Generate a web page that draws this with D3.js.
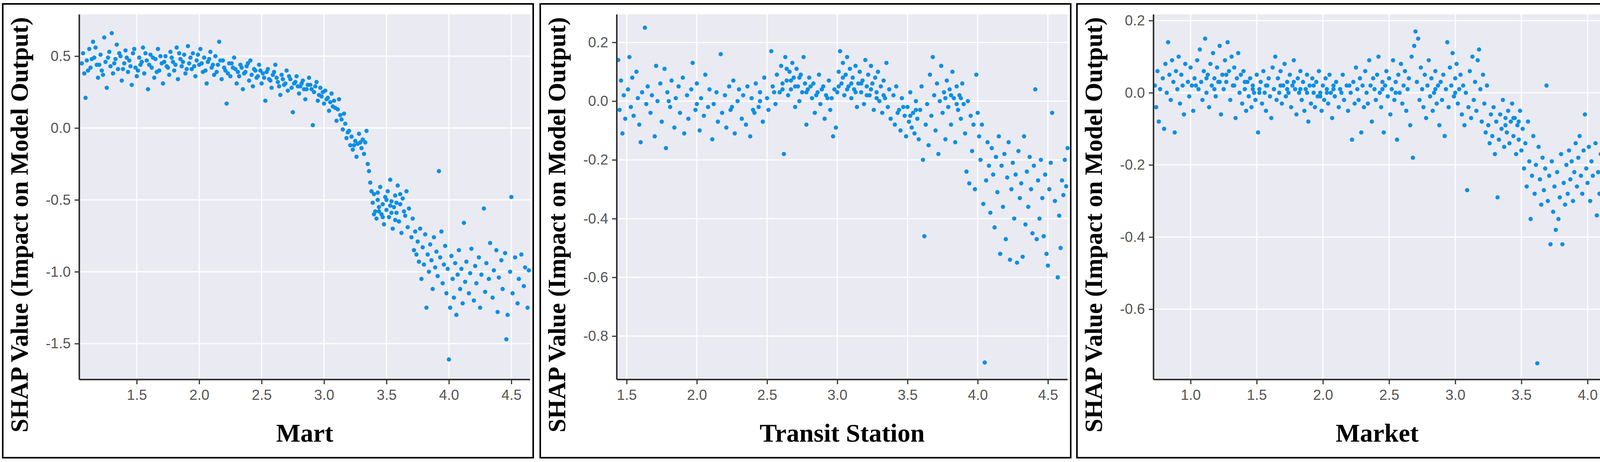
<!DOCTYPE html>
<html>
<head>
<meta charset="utf-8">
<script src="https://cdn.jsdelivr.net/npm/d3@7"></script>
<style>
  body { margin: 0; background: #fff; }
</style>
</head>
<body>
<svg id="chart" width="4132" height="1182"></svg>
<script>
// feature names
const features = ["Mart", "Transit Station", "Market"];

// axis domains and ticks per panel
const xDomains = [[1.04, 4.65], [1.43, 4.64], [0.72, 4.1]];
const yDomains = [[-1.75, 0.79], [-0.948, 0.295], [-0.795, 0.217]];
const xTicks = [[1.5, 2.0, 2.5, 3.0, 3.5, 4.0, 4.5], [1.5, 2.0, 2.5, 3.0, 3.5, 4.0, 4.5], [1.0, 1.5, 2.0, 2.5, 3.0, 3.5, 4.0]];
const yTicks = [[0.5, 0.0, -0.5, -1.0, -1.5], [0.2, 0.0, -0.2, -0.4, -0.6, -0.8], [0.2, 0.0, -0.2, -0.4, -0.6]];

// SHAP points, flat x,y pairs
const martPts = [
1.06,0.45,1.07,0.52,1.08,0.38,1.09,0.21,1.10,0.47,1.12,0.55,1.13,0.42,1.15,0.60,1.16,0.49,1.18,0.44,1.19,0.35,1.21,0.51,1.22,0.40,1.24,0.63,1.25,0.46,1.26,0.28,1.28,0.53,1.29,0.43,1.30,0.66,1.31,0.38,1.33,0.48,1.34,0.58,1.35,0.41,1.37,0.50,1.38,0.33,1.40,0.45,1.41,0.54,1.43,0.39,1.44,0.47,1.46,0.30,1.47,0.52,1.49,0.42,1.50,0.36,1.52,0.49,1.53,0.44,1.55,0.56,1.56,0.38,1.58,0.47,1.59,0.27,1.61,0.51,1.62,0.42,1.64,0.35,1.65,0.48,1.67,0.55,1.68,0.40,1.70,0.45,1.71,0.31,1.73,0.50,1.74,0.43,1.76,0.37,1.77,0.53,1.79,0.46,1.80,0.40,1.82,0.56,1.83,0.34,1.85,0.48,1.86,0.43,1.88,0.51,1.89,0.38,1.91,0.57,1.92,0.45,1.94,0.41,1.95,0.52,1.97,0.36,1.98,0.47,2.00,0.44,2.01,0.55,2.03,0.39,2.04,0.49,2.06,0.31,2.07,0.46,2.09,0.53,2.10,0.42,2.12,0.37,2.13,0.50,2.15,0.44,2.16,0.60,2.18,0.34,2.19,0.47,2.21,0.40,2.22,0.17,2.24,0.45,2.25,0.36,2.27,0.42,2.28,0.49,2.30,0.31,2.31,0.39,2.33,0.44,2.35,0.27,2.36,0.38,2.38,0.43,2.40,0.33,2.41,0.47,2.43,0.29,2.45,0.40,2.46,0.35,2.48,0.44,2.50,0.31,2.51,0.38,2.53,0.19,2.55,0.41,2.56,0.34,2.58,0.28,2.60,0.39,2.61,0.44,2.63,0.32,2.65,0.23,2.66,0.37,2.68,0.30,2.70,0.40,2.71,0.26,2.73,0.34,2.75,0.11,2.76,0.31,2.78,0.36,2.80,0.24,2.81,0.29,2.83,0.33,2.85,0.20,2.86,0.27,2.88,0.35,2.89,0.30,2.91,0.02,2.92,0.25,2.94,0.32,2.95,0.19,2.97,0.28,2.98,0.22,3.00,0.17,3.01,0.26,3.03,0.21,3.04,0.12,3.06,0.24,3.07,0.15,3.08,0.19,3.10,0.05,3.11,0.13,3.12,0.20,3.13,0.09,3.15,-0.01,3.16,0.10,3.17,0.03,3.18,-0.07,3.20,-0.02,3.21,-0.12,3.22,-0.06,3.23,-0.15,3.25,-0.09,3.26,-0.20,3.27,-0.11,3.28,-0.04,3.30,-0.14,3.31,-0.08,3.32,-0.18,3.33,-0.10,3.34,-0.02,3.35,-0.25,3.36,-0.30,3.37,-0.38,3.38,-0.44,3.39,-0.52,3.40,-0.46,3.41,-0.58,3.42,-0.63,3.43,-0.50,3.44,-0.55,3.45,-0.41,3.46,-0.60,3.47,-0.53,3.48,-0.67,3.49,-0.48,3.50,-0.57,3.51,-0.44,3.52,-0.62,3.53,-0.36,3.54,-0.51,3.55,-0.70,3.56,-0.55,3.57,-0.47,3.58,-0.59,3.59,-0.40,3.60,-0.65,3.61,-0.53,3.62,-0.73,3.63,-0.49,3.64,-0.58,3.65,-0.61,3.66,-0.44,3.67,-0.69,3.68,-0.56,3.70,-0.76,3.71,-0.63,3.72,-0.85,3.73,-0.72,3.74,-0.88,3.75,-0.79,3.76,-0.93,3.77,-0.70,3.78,-1.05,3.79,-0.83,3.80,-0.95,3.81,-0.74,3.82,-1.25,3.83,-0.88,3.84,-1.00,3.85,-0.81,3.86,-0.92,3.87,-1.12,3.88,-0.76,3.89,-0.97,3.90,-0.86,3.91,-1.03,3.92,-0.30,3.93,-0.90,3.94,-0.72,3.95,-1.08,3.96,-0.95,3.97,-0.82,3.98,-1.15,3.99,-0.98,4.00,-1.61,4.01,-1.25,4.02,-0.89,4.03,-1.05,4.04,-1.18,4.05,-0.94,4.06,-1.30,4.07,-1.02,4.08,-0.85,4.09,-1.12,4.10,-0.98,4.11,-1.22,4.12,-0.66,4.13,-1.07,4.14,-0.93,4.16,-1.15,4.17,-1.01,4.18,-0.84,4.20,-1.20,4.21,-0.96,4.22,-1.08,4.24,-0.90,4.25,-1.25,4.26,-1.02,4.28,-0.56,4.29,-1.14,4.30,-0.94,4.32,-1.05,4.33,-0.80,4.35,-1.18,4.36,-0.99,4.38,-0.85,4.39,-1.28,4.40,-1.04,4.42,-0.92,4.43,-1.12,4.45,-0.87,4.46,-1.47,4.47,-1.30,4.49,-1.00,4.50,-0.48,4.51,-1.15,4.53,-0.90,4.55,-1.22,4.56,-1.05,4.58,-0.88,4.60,-1.10,4.61,-0.97,4.63,-1.25,4.64,-0.99,
1.11,0.40,1.14,0.48,1.17,0.56,1.20,0.44,1.23,0.37,1.27,0.49,1.32,0.45,1.36,0.52,1.39,0.41,1.42,0.49,1.45,0.43,1.48,0.55,1.51,0.40,1.54,0.46,1.57,0.52,1.60,0.44,1.63,0.49,1.66,0.39,1.69,0.50,1.72,0.46,1.75,0.42,1.78,0.49,1.81,0.44,1.84,0.52,1.87,0.46,1.90,0.41,1.93,0.49,1.96,0.43,1.99,0.51,2.02,0.45,2.05,0.40,2.08,0.48,2.11,0.44,2.14,0.39,2.17,0.47,2.20,0.42,2.23,0.38,2.26,0.45,2.29,0.41,2.32,0.36,2.34,0.42,2.37,0.39,2.39,0.45,2.42,0.37,2.44,0.41,2.47,0.36,2.49,0.40,2.52,0.35,2.54,0.39,2.57,0.33,2.59,0.37,2.62,0.35,2.64,0.29,2.67,0.34,2.69,0.31,2.72,0.36,2.74,0.28,2.77,0.32,2.79,0.29,2.82,0.31,2.84,0.27,2.87,0.30,2.90,0.27,2.93,0.29,2.96,0.23,2.99,0.25,3.02,0.20,3.05,0.18,3.09,0.14,3.14,0.06,3.19,-0.03,3.24,-0.12,3.29,-0.10,3.44,-0.58,3.50,-0.50,3.54,-0.59,3.58,-0.52,3.47,-0.62,3.43,-0.45,3.57,-0.64,3.61,-0.46,3.40,-0.60,3.53,-0.54
];

const transitPts = [
1.44,0.14,1.45,-0.03,1.46,0.07,1.47,-0.11,1.48,0.02,1.49,-0.06,1.51,0.04,1.52,0.15,1.53,-0.02,1.54,0.08,1.55,-0.05,1.57,0.10,1.58,0.01,1.59,-0.08,1.60,-0.14,1.61,0.03,1.63,0.25,1.64,-0.01,1.65,0.05,1.67,-0.04,1.68,0.02,1.70,-0.12,1.71,0.12,1.72,0.00,1.74,0.06,1.75,-0.07,1.77,0.11,1.78,-0.16,1.79,0.03,1.81,-0.02,1.82,0.07,1.84,-0.09,1.85,0.01,1.87,0.05,1.88,-0.04,1.90,0.08,1.91,-0.11,1.93,0.02,1.94,-0.06,1.96,0.04,1.97,0.13,1.99,-0.03,2.00,0.06,2.02,-0.10,2.03,0.01,2.05,-0.05,2.06,0.09,2.08,-0.02,2.09,0.04,2.11,-0.13,2.12,-0.01,2.14,0.03,2.15,-0.07,2.17,0.16,2.18,-0.04,2.20,0.02,2.21,-0.09,2.23,0.05,2.24,-0.03,2.26,0.07,2.27,-0.11,2.29,0.00,2.30,0.04,2.32,-0.06,2.33,0.02,2.35,-0.08,2.36,0.05,2.38,-0.12,2.39,0.01,2.41,-0.04,2.42,0.06,2.44,-0.02,2.45,0.03,2.47,-0.07,2.48,0.08,2.50,0.01,2.51,-0.03,2.53,0.17,2.54,0.05,2.56,-0.01,2.57,0.09,2.59,0.03,2.60,0.12,2.61,0.06,2.62,-0.18,2.63,0.15,2.64,0.07,2.65,0.02,2.66,0.10,2.67,0.04,2.68,0.13,2.69,0.08,2.70,-0.02,2.71,0.11,2.72,0.05,2.73,0.00,2.74,0.09,2.75,0.03,2.76,0.15,2.77,0.06,2.78,-0.08,2.79,0.04,2.80,0.08,2.82,0.01,2.83,0.06,2.84,-0.04,2.86,0.03,2.87,0.09,2.88,-0.01,2.90,0.05,2.91,-0.06,2.92,0.02,2.94,0.07,2.95,-0.03,2.96,0.01,2.97,-0.12,2.98,0.04,2.99,-0.09,3.00,0.03,3.01,0.10,3.02,0.17,3.03,0.06,3.04,0.13,3.05,0.02,3.06,0.09,3.07,0.15,3.08,0.05,3.09,0.11,3.10,0.01,3.11,0.08,3.12,0.04,3.13,0.12,3.14,-0.02,3.15,0.06,3.16,0.10,3.17,0.03,3.18,0.07,3.19,-0.01,3.20,0.14,3.21,0.05,3.22,0.09,3.23,0.02,3.24,0.12,3.25,0.06,3.26,-0.03,3.27,0.08,3.28,0.03,3.29,0.10,3.30,0.00,3.31,0.05,3.32,-0.04,3.33,0.07,3.34,0.01,3.35,0.13,3.36,-0.02,3.37,0.04,3.38,-0.06,3.40,0.02,3.41,-0.08,3.42,0.05,3.44,-0.03,3.45,-0.10,3.46,0.01,3.48,-0.05,3.49,-0.12,3.50,-0.02,3.51,-0.07,3.52,0.03,3.53,-0.09,3.54,-0.04,3.55,-0.11,3.56,0.00,3.57,-0.06,3.58,-0.13,3.59,-0.03,3.60,0.05,3.61,-0.20,3.62,-0.46,3.63,-0.08,3.64,-0.01,3.65,-0.15,3.66,0.09,3.67,-0.05,3.68,0.15,3.69,0.02,3.70,-0.10,3.71,0.06,3.72,-0.18,3.73,0.00,3.74,0.12,3.75,-0.04,3.76,0.03,3.77,-0.13,3.78,0.07,3.79,-0.02,3.80,0.04,3.81,-0.08,3.82,0.10,3.83,0.01,3.84,-0.14,3.85,0.05,3.86,-0.03,3.87,0.02,3.88,-0.06,3.89,0.06,3.90,-0.01,3.91,-0.11,3.92,-0.24,3.93,0.00,3.94,-0.28,3.95,-0.05,3.96,-0.17,3.97,-0.08,3.98,-0.30,3.99,0.09,4.00,-0.04,4.01,-0.12,4.02,-0.20,4.03,-0.08,4.04,-0.35,4.05,-0.89,4.06,-0.27,4.07,-0.14,4.08,-0.22,4.09,-0.38,4.10,-0.16,4.11,-0.25,4.12,-0.43,4.13,-0.19,4.14,-0.31,4.15,-0.12,4.16,-0.52,4.17,-0.22,4.18,-0.36,4.19,-0.18,4.20,-0.47,4.21,-0.26,4.22,-0.14,4.23,-0.54,4.24,-0.30,4.25,-0.21,4.26,-0.40,4.27,-0.25,4.28,-0.55,4.29,-0.17,4.30,-0.33,4.31,-0.28,4.32,-0.53,4.33,-0.12,4.34,-0.42,4.35,-0.24,4.36,-0.36,4.37,-0.19,4.38,-0.30,4.39,-0.45,4.40,-0.22,4.41,0.04,4.42,-0.47,4.43,-0.27,4.44,-0.40,4.45,-0.20,4.46,-0.33,4.47,-0.46,4.48,-0.25,4.49,-0.52,4.50,-0.56,4.51,-0.30,4.52,-0.21,4.53,-0.04,4.55,-0.34,4.57,-0.60,4.58,-0.39,4.59,-0.50,4.60,-0.27,4.61,-0.32,4.62,-0.20,4.63,-0.29,4.64,-0.16,
2.61,0.04,2.64,0.11,2.67,0.07,2.70,0.05,2.73,0.08,2.78,0.03,2.81,0.05,2.85,0.02,2.89,0.04,2.93,0.01,3.01,0.05,3.04,0.08,3.07,0.04,3.10,0.06,3.13,0.03,3.17,0.06,3.21,0.02,3.24,0.04,3.28,0.01,3.33,0.02,3.43,-0.04,3.47,-0.02,3.52,-0.05,3.56,-0.03,3.77,0.01,3.81,0.02,3.85,-0.01,3.88,0.01,1.80,0.00,2.00,-0.01,2.25,-0.02,2.40,-0.03,2.55,0.03,2.45,0.00
];

const marketPts = [
0.73,0.02,0.74,-0.04,0.75,0.06,0.76,-0.08,0.77,0.01,0.79,0.04,0.80,-0.10,0.81,0.08,0.82,0.00,0.83,0.14,0.84,0.05,0.85,-0.02,0.86,0.09,0.87,0.03,0.88,-0.11,0.89,0.06,0.90,0.01,0.91,0.10,0.92,-0.03,0.93,0.05,0.94,0.02,0.95,-0.06,0.96,0.08,0.98,0.03,0.99,-0.01,1.00,0.07,1.01,0.02,1.02,-0.05,1.03,0.04,1.05,0.09,1.06,0.01,1.07,0.12,1.08,0.03,1.09,-0.02,1.10,0.06,1.11,0.15,1.12,0.00,1.13,0.05,1.14,-0.04,1.15,0.08,1.16,0.02,1.17,0.11,1.18,0.04,1.19,-0.01,1.20,0.07,1.21,0.03,1.22,0.13,1.23,-0.06,1.24,0.05,1.25,0.01,1.26,0.09,1.27,0.03,1.28,0.14,1.29,0.06,1.30,-0.02,1.31,0.10,1.32,0.02,1.33,0.07,1.34,-0.07,1.35,0.04,1.36,0.11,1.37,0.00,1.38,0.05,1.39,-0.03,1.40,0.06,1.41,0.01,1.42,-0.05,1.43,0.03,1.44,-0.01,1.45,0.04,1.46,-0.04,1.47,0.02,1.48,0.00,1.49,-0.02,1.50,0.05,1.51,-0.11,1.52,0.01,1.53,0.03,1.54,-0.03,1.55,0.06,1.56,0.00,1.57,-0.05,1.58,0.02,1.59,0.04,1.60,-0.01,1.61,-0.07,1.62,0.07,1.63,0.01,1.64,0.10,1.65,-0.02,1.66,0.04,1.67,0.00,1.68,0.06,1.69,-0.03,1.70,0.02,1.71,0.08,1.72,-0.01,1.73,0.03,1.74,0.00,1.75,0.05,1.76,-0.04,1.77,0.02,1.78,0.09,1.79,0.01,1.80,-0.06,1.81,0.04,1.82,0.00,1.83,0.06,1.84,-0.02,1.85,0.03,1.86,-0.05,1.87,0.01,1.88,0.05,1.89,-0.08,1.90,0.02,1.91,-0.03,1.92,0.04,1.93,0.00,1.94,-0.04,1.95,0.03,1.96,-0.01,1.97,0.06,1.98,0.00,1.99,-0.05,2.00,0.02,2.01,-0.02,2.02,0.04,2.03,0.01,2.04,-0.03,2.05,0.05,2.06,0.00,2.07,-0.07,2.08,0.02,2.09,-0.01,2.10,0.03,2.12,-0.04,2.13,0.01,2.15,0.05,2.16,-0.02,2.18,0.02,2.19,-0.05,2.21,0.00,2.22,-0.13,2.23,0.03,2.24,-0.03,2.25,0.07,2.26,0.01,2.27,-0.02,2.28,0.04,2.29,-0.11,2.30,0.02,2.31,-0.04,2.32,0.06,2.33,0.00,2.34,-0.03,2.35,0.09,2.36,0.02,2.37,-0.08,2.38,0.04,2.39,0.01,2.40,-0.02,2.41,0.05,2.42,0.10,2.43,0.00,2.44,-0.04,2.45,0.03,2.46,-0.11,2.47,0.02,2.48,0.06,2.49,-0.01,2.50,0.04,2.51,-0.06,2.52,0.01,2.53,0.09,2.54,-0.02,2.55,0.03,2.56,-0.13,2.57,0.05,2.58,0.00,2.59,0.08,2.60,-0.03,2.61,0.02,2.62,0.06,2.63,-0.05,2.64,0.01,2.65,0.04,2.66,-0.09,2.67,0.10,2.68,-0.18,2.69,0.13,2.70,0.17,2.71,0.03,2.72,0.15,2.73,-0.02,2.74,0.07,2.75,0.01,2.76,-0.04,2.77,0.05,2.78,-0.07,2.79,0.02,2.80,0.09,2.81,-0.01,2.82,0.04,2.83,-0.05,2.84,0.00,2.85,0.06,2.86,-0.03,2.87,0.02,2.88,-0.09,2.89,0.03,2.90,-0.02,2.91,0.05,2.92,-0.12,2.93,0.01,2.94,0.14,2.95,-0.04,2.96,0.07,2.97,0.02,2.98,0.11,2.99,-0.01,3.00,0.04,3.01,0.08,3.02,-0.03,3.03,0.01,3.04,0.05,3.05,-0.06,3.06,0.02,3.07,-0.09,3.08,0.00,3.09,-0.27,3.10,-0.04,3.11,0.06,3.12,-0.07,3.13,0.10,3.14,-0.02,3.15,0.03,3.16,-0.05,3.17,0.09,3.18,0.12,3.19,0.01,3.20,-0.08,3.21,0.05,3.22,-0.03,3.23,-0.11,3.24,0.02,3.25,-0.09,3.26,-0.14,3.27,-0.06,3.28,-0.12,3.29,-0.04,3.30,-0.17,3.31,-0.08,3.32,-0.29,3.33,-0.13,3.34,-0.06,3.35,-0.10,3.36,-0.02,3.37,-0.15,3.38,-0.07,3.39,-0.11,3.40,-0.05,3.41,-0.14,3.42,-0.08,3.43,-0.03,3.44,-0.12,3.45,-0.07,3.46,-0.17,3.47,-0.09,3.48,-0.13,3.49,-0.05,3.50,-0.16,3.51,-0.10,3.52,-0.21,3.53,-0.14,3.54,-0.26,3.55,-0.08,3.56,-0.19,3.57,-0.35,3.58,-0.23,3.59,-0.12,3.60,-0.28,3.61,-0.20,3.62,-0.75,3.63,-0.15,3.64,-0.24,3.65,-0.31,3.66,-0.18,3.67,-0.27,3.68,-0.21,3.69,0.02,3.70,-0.30,3.71,-0.23,3.72,-0.42,3.73,-0.19,3.74,-0.33,3.75,-0.26,3.76,-0.38,3.77,-0.22,3.78,-0.35,3.79,-0.29,3.80,-0.17,3.81,-0.42,3.82,-0.25,3.83,-0.31,3.84,-0.20,3.85,-0.28,3.86,-0.16,3.87,-0.24,3.88,-0.19,3.89,-0.30,3.90,-0.22,3.91,-0.14,3.92,-0.26,3.93,-0.18,3.94,-0.12,3.95,-0.23,3.96,-0.28,3.97,-0.16,3.98,-0.06,3.99,-0.21,4.00,-0.25,4.01,-0.15,4.02,-0.30,4.03,-0.19,4.04,-0.23,4.06,-0.14,4.07,-0.34,4.08,-0.22,4.09,-0.28,4.10,-0.17,
1.04,0.02,1.12,0.04,1.18,0.01,1.22,0.03,1.27,0.05,1.33,0.02,1.41,0.03,1.47,0.01,1.52,0.00,1.57,0.02,1.63,0.01,1.68,0.02,1.73,0.01,1.78,0.03,1.83,0.01,1.88,0.00,1.93,0.02,1.98,-0.01,2.03,0.00,2.08,0.01,2.14,0.00,2.20,0.02,2.45,0.01,2.55,0.00,2.85,0.01,3.00,0.00,3.38,-0.09,3.44,-0.07,3.48,-0.08
];

const allPts = [martPts, transitPts, marketPts];

const svg = d3.select("#chart");
const panelX = [7, 1383, 2757];
const panelW = 1358, panelH = 1161;
const margin = { left: 196, right: 8, top: 27, bottom: 200 };
const fmt = v => d3.format(".1f")(v).replace("\u2212", "-");

features.forEach((name, i) => {
    const g = svg.append("g").attr("transform", `translate(${panelX[i]},10)`);

    // panel frame
    g.append("rect")
        .attr("width", i === 2 ? 1349 : panelW).attr("height", panelH)
        .attr("fill", "#fff").attr("stroke", "#000").attr("stroke-width", 4);

    const pw = i === 2 ? 1349 : panelW;
    const w = pw - margin.left - margin.right;
    const h = panelH - margin.top - margin.bottom;
    const plot = g.append("g").attr("transform", `translate(${margin.left},${margin.top})`);

    const x = d3.scaleLinear().domain(xDomains[i]).range([0, w]);
    const y = d3.scaleLinear().domain(yDomains[i]).range([h, 0]);

    plot.append("rect").attr("width", w).attr("height", h).attr("fill", "#eaeaf2");

    // grid
    plot.append("g").selectAll("line").data(xTicks[i]).join("line")
        .attr("x1", d => x(d)).attr("x2", d => x(d)).attr("y1", 0).attr("y2", h)
        .attr("stroke", "#fff").attr("stroke-width", 3);
    plot.append("g").selectAll("line").data(yTicks[i]).join("line")
        .attr("y1", d => y(d)).attr("y2", d => y(d)).attr("x1", 0).attr("x2", w)
        .attr("stroke", "#fff").attr("stroke-width", 3);

    // points
    const pts = d3.range(0, allPts[i].length, 2).map(k => [allPts[i][k], allPts[i][k + 1]]);
    plot.append("g").selectAll("circle").data(pts).join("circle")
        .attr("cx", d => x(d[0])).attr("cy", d => y(d[1]))
        .attr("r", 5.5).attr("fill", "#0a8fe6");

    // axes
    const xAxis = plot.append("g").attr("transform", `translate(0,${h})`)
        .call(d3.axisBottom(x).tickValues(xTicks[i]).tickFormat(fmt).tickSize(12).tickPadding(14));
    const yAxis = plot.append("g")
        .call(d3.axisLeft(y).tickValues(yTicks[i]).tickFormat(fmt).tickSize(12).tickPadding(10));
    [xAxis, yAxis].forEach(a => {
        a.select(".domain").attr("stroke", "#333").attr("stroke-width", 4);
        a.selectAll(".tick line").attr("stroke", "#333").attr("stroke-width", 3);
        a.selectAll(".tick text").attr("fill", "#555")
            .style("font-family", "Liberation Sans, Arial, sans-serif").style("font-size", "37px");
    });
    xAxis.select(".domain").attr("d", `M0,0H${w}`);
    yAxis.select(".domain").attr("d", `M0,0V${h}`);

    // titles
    g.append("text")
        .attr("x", margin.left + w / 2).attr("y", 1120)
        .attr("text-anchor", "middle")
        .style("font-family", "Liberation Serif, Times New Roman, serif")
        .style("font-weight", "bold").style("font-size", "66px")
        .text(name);
    g.append("text")
        .attr("transform", `translate(64,565) rotate(-90)`)
        .attr("text-anchor", "middle")
        .style("font-family", "Liberation Serif, Times New Roman, serif")
        .style("font-weight", "bold").style("font-size", "63px")
        .text("SHAP Value (Impact on Model Output)");
});
</script>
</body>
</html>
